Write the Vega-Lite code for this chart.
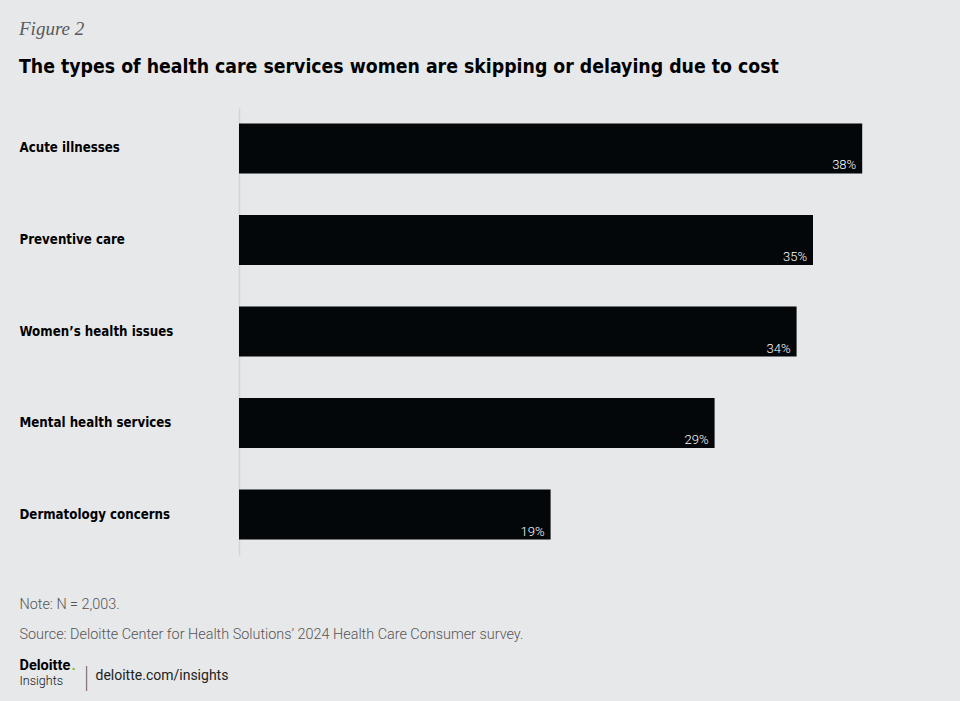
{
  "$schema": "https://vega.github.io/schema/vega-lite/v6.json",
  "width": 656,
  "height": 447,
  "autosize": {"type": "none"},
  "padding": {"left": 239, "top": 108, "right": 65, "bottom": 146},
  "background": "#e7e8ea",
  "config": {"view": {"stroke": null}, "axis": {"grid": false}},
  "title": {
    "text": "Figure 2",
    "subtitle": "The types of health care services women are skipping or delaying due to cost",
    "anchor": "start",
    "frame": "bounds",
    "dx": 0,
    "offset": 31,
    "font": "Liberation Serif",
    "fontStyle": "italic",
    "fontWeight": "normal",
    "fontSize": 19,
    "color": "#5a5a5a",
    "subtitleFont": "DejaVu Sans Condensed",
    "subtitleFontWeight": "bold",
    "subtitleFontSize": 19.3,
    "subtitleColor": "#000000",
    "subtitlePadding": 19
  },
  "data": {
    "values": [
      {"category": "Acute illnesses", "value": 0.38},
      {"category": "Preventive care", "value": 0.35},
      {"category": "Women’s health issues", "value": 0.34},
      {"category": "Mental health services", "value": 0.29},
      {"category": "Dermatology concerns", "value": 0.19}
    ]
  },
  "resolve": {"scale": {"x": "independent", "y": "independent"}, "axis": {"x": "independent", "y": "independent"}},
  "layer": [
    {
      "encoding": {
        "y": {
          "field": "category",
          "type": "nominal",
          "sort": null,
          "scale": {"paddingInner": 0.4536, "paddingOuter": 0.169},
          "axis": {
            "title": "deloitte.com/insights",
            "titleAngle": 0,
            "titleAlign": "left",
            "titleBaseline": "alphabetic",
            "titleX": -144,
            "titleY": 571,
            "titleFont": "Roboto",
            "titleFontSize": 14,
            "titleFontWeight": "normal",
            "titleColor": "#222222",
            "labelAlign": "left",
            "labelPadding": 220,
            "ticks": false,
            "tickSize": 0,
            "labelFont": "DejaVu Sans Condensed",
            "labelFontWeight": "bold",
            "labelFontSize": 13.2,
            "labelColor": "#000000",
            "labelLimit": 0,
            "domainColor": "#d3d4d6",
            "domainWidth": 1.5
          }
        },
        "x": {
          "field": "value",
          "type": "quantitative",
          "scale": {"domain": [0, 0.4], "nice": false},
          "axis": {
            "title": ["Note: N = 2,003.", "Source: Deloitte Center for Health Solutions’ 2024 Health Care Consumer survey."],
            "labels": false,
            "ticks": false,
            "domain": false,
            "titleX": -220,
            "titleY": 53,
            "titleAlign": "left",
            "titleBaseline": "alphabetic",
            "titleLineHeight": 30,
            "titleFont": "Roboto",
            "titleFontSize": 14.4,
            "titleFontWeight": 300,
            "titleColor": "#555555"
          }
        }
      },
      "layer": [
        {"mark": {"type": "bar", "color": "#03070a"}},
        {
          "mark": {"type": "text", "align": "right", "baseline": "alphabetic", "dx": -6, "dy": 21, "color": "#ffffff", "font": "Roboto", "fontWeight": 300, "fontSize": 13},
          "encoding": {"text": {"field": "value", "type": "quantitative", "format": ".0%"}}
        }
      ]
    },
    {
      "mark": {"type": "point", "opacity": 0},
      "encoding": {
        "x": {
          "field": "value",
          "type": "quantitative",
          "axis": {
            "orient": "bottom",
            "title": "Deloitte",
            "labels": false,
            "ticks": false,
            "domain": false,
            "titleX": -220,
            "titleY": 114,
            "titleAlign": "left",
            "titleBaseline": "alphabetic",
            "titleFont": "Roboto",
            "titleFontSize": 14.5,
            "titleFontWeight": "bold",
            "titleColor": "#000000"
          }
        },
        "y": {
          "field": "category",
          "type": "nominal",
          "axis": {
            "orient": "left",
            "title": "Insights",
            "labels": false,
            "ticks": false,
            "domain": false,
            "titleAngle": 0,
            "titleX": -220,
            "titleY": 576,
            "titleAlign": "left",
            "titleBaseline": "alphabetic",
            "titleFont": "Roboto",
            "titleFontSize": 12.5,
            "titleFontWeight": 300,
            "titleColor": "#111111"
          }
        }
      }
    },
    {
      "mark": {"type": "point", "opacity": 0},
      "encoding": {
        "x": {
          "field": "value",
          "type": "quantitative",
          "axis": {
            "orient": "bottom",
            "title": ".",
            "labels": false,
            "ticks": false,
            "domain": false,
            "titleX": -168,
            "titleY": 114,
            "titleAlign": "left",
            "titleBaseline": "alphabetic",
            "titleFont": "Roboto",
            "titleFontSize": 15,
            "titleFontWeight": "bold",
            "titleColor": "#86bc25"
          }
        },
        "y": {
          "field": "category",
          "type": "nominal",
          "axis": {
            "orient": "left",
            "title": "|",
            "labels": false,
            "ticks": false,
            "domain": false,
            "titleAngle": 0,
            "titleX": -153,
            "titleY": 578,
            "titleAlign": "center",
            "titleBaseline": "alphabetic",
            "titleFont": "Roboto",
            "titleFontSize": 30,
            "titleFontWeight": 100,
            "titleColor": "#444444"
          }
        }
      }
    }
  ]
}
